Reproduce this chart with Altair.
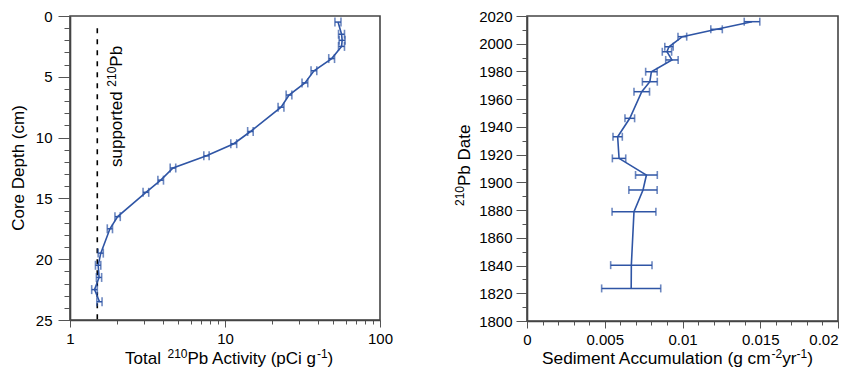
import altair as alt
import pandas as pd

FONT = "Liberation Sans"
BLUE = "#2f55a5"

# ---------------- Left panel: 210Pb activity vs depth ----------------
depth = [0.5, 1.5, 2.0, 2.5, 3.5, 4.5, 5.5, 6.5, 7.5, 9.5, 10.5, 11.5,
         12.5, 13.5, 14.5, 16.5, 17.5, 19.5, 20.5, 21.5, 22.5, 23.5]
activity = [53.6, 56.5, 57.0, 56.5, 48.8, 37.5, 32.8, 25.9, 23.0, 14.6, 11.4, 7.6,
            4.62, 3.85, 3.09, 2.03, 1.81, 1.58, 1.52, 1.54, 1.44, 1.55]
activity_err = [2.4, 2.5, 2.5, 2.5, 2.1, 1.6, 1.4, 1.1, 1.0, 0.6, 0.5, 0.3,
                0.19, 0.16, 0.13, 0.08, 0.07, 0.06, 0.06, 0.06, 0.06, 0.06]
supported_pb = 1.5
supported_depth_range = [1.0, 25.0]

# ---------------- Right panel: sediment accumulation vs date ----------------
year = [2015.9, 2010.4, 2005.1, 1997.8, 1994.2, 1988.3, 1979.8, 1972.6, 1965.4,
        1946.2, 1932.9, 1917.3, 1905.3, 1894.5, 1878.8, 1840.3, 1823.5]
accum = [0.01447, 0.01219, 0.00999, 0.00913, 0.00900, 0.00932, 0.00800, 0.00790,
         0.00738, 0.00661, 0.00583, 0.00592, 0.00768, 0.00746, 0.00688, 0.00671, 0.00670]
accum_err = [0.00050, 0.00037, 0.00028, 0.00027, 0.00030, 0.00040, 0.00037, 0.00048,
             0.00050, 0.00031, 0.00030, 0.00043, 0.00070, 0.00091, 0.00141, 0.00133, 0.00190]

left_df = pd.DataFrame({
    "depth": depth,
    "act": activity,
    "lo": [a - e for a, e in zip(activity, activity_err)],
    "hi": [a + e for a, e in zip(activity, activity_err)],
})
sup_df = pd.DataFrame({"s": [supported_pb], "d0": [supported_depth_range[0]],
                       "d1": [supported_depth_range[1]]})

right_df = pd.DataFrame({
    "year": year,
    "acc": accum,
    "lo": [a - e for a, e in zip(accum, accum_err)],
    "hi": [a + e for a, e in zip(accum, accum_err)],
})

# ---------- axes ----------
left_x_ticks = [1, 2, 3, 4, 5, 6, 7, 8, 9, 10, 20, 30, 40, 50, 60, 70, 80, 90, 100]
left_y_ticks = list(range(0, 26))
right_x_ticks = [round(i * 0.001, 3) for i in range(21)]
right_y_ticks = list(range(1800, 2021, 10))

lx_major = "datum.value == 1 || datum.value == 10 || datum.value == 100"
ly_major = "datum.value % 5 == 0"
rx_major = "abs(datum.value * 200 - round(datum.value * 200)) < 1e-6"
ry_major = "datum.value % 20 == 0"


def xl(field):
    return alt.X(f"{field}:Q", title=None,
                 scale=alt.Scale(type="log", domain=[1, 100], nice=False),
                 axis=alt.Axis(values=left_x_ticks, format="d", labelFlush=False,
                               labelExpr=f"({lx_major}) ? datum.label : ''",
                               tickSize={"condition": {"test": lx_major, "value": 7}, "value": 4},
                               labelPadding=4))


def yl(field):
    return alt.Y(f"{field}:Q", title=None,
                 scale=alt.Scale(domain=[0, 25], reverse=True, nice=False, zero=False),
                 axis=alt.Axis(values=left_y_ticks,
                               labelExpr=f"({ly_major}) ? datum.label : ''",
                               tickSize={"condition": {"test": ly_major, "value": 12}, "value": 6},
                               labelPadding=6))


def xr(field):
    return alt.X(f"{field}:Q", title=None,
                 scale=alt.Scale(domain=[0, 0.02], nice=False, zero=False),
                 axis=alt.Axis(values=right_x_ticks, format="~g", labelFlush=False,
                               labelAlign={"condition": {"test": "datum.value > 0.0195",
                                                         "value": "right"},
                                           "value": "center"},
                               labelExpr=f"({rx_major}) ? datum.label : ''",
                               tickSize={"condition": {"test": rx_major, "value": 7}, "value": 4},
                               labelPadding=4))


def yr(field):
    return alt.Y(f"{field}:Q", title=None,
                 scale=alt.Scale(domain=[1800, 2020], nice=False, zero=False),
                 axis=alt.Axis(values=right_y_ticks, format="d",
                               labelExpr=f"({ry_major}) ? datum.label : ''",
                               tickSize={"condition": {"test": ry_major, "value": 11}, "value": 5},
                               labelPadding=4))


def label(text, x, y, size=17, angle=0, align="left", baseline="alphabetic"):
    """Static annotation / axis-title text placed in plot-area pixels."""
    return alt.Chart(pd.DataFrame({"k": [0]})).mark_text(
        text=text, font=FONT, fontSize=size, color="black", angle=angle,
        align=align, baseline=baseline).encode(x=alt.value(x), y=alt.value(y))


# ---------- left chart ----------
LW, LH = 310, 304
lbase = alt.Chart(left_df)
l_line = lbase.mark_line(color=BLUE, strokeWidth=1.6).encode(
    x=xl("act"), y=yl("depth"), order=alt.Order("depth:Q"))
l_rule = lbase.mark_rule(color=BLUE, strokeWidth=1.5).encode(
    x=xl("lo"), x2="hi:Q", y=yl("depth"))
l_cap_lo = lbase.mark_tick(color=BLUE, orient="vertical", size=9, thickness=1.6).encode(
    x=xl("lo"), y=yl("depth"))
l_cap_hi = lbase.mark_tick(color=BLUE, orient="vertical", size=9, thickness=1.6).encode(
    x=xl("hi"), y=yl("depth"))
l_sup = alt.Chart(sup_df).mark_rule(color="black", strokeWidth=1.6, strokeDash=[5, 6]).encode(
    x=xl("s"), y=yl("d0"), y2="d1:Q")

left_texts = [
    # annotation "supported 210Pb" (rotated)
    label("supported", 52, 151, size=17, angle=270),
    label("210", 46, 70.7, size=12, angle=270),
    label("Pb", 52, 50.7, size=17, angle=270),
    # y title
    label("Core Depth (cm)", -51, LH / 2, size=17, angle=270, align="center", baseline="middle"),
    # x title "Total 210Pb Activity (pCi g-1)"
    label("Total", 55, 348),
    label("210", 97.5, 342, size=12),
    label("Pb Activity (pCi g", 117.5, 348),
    label("-1", 246.9, 342, size=12),
    label(")", 257.6, 348),
]

left = alt.layer(l_sup, l_line, l_rule, l_cap_lo, l_cap_hi, *left_texts).properties(
    width=LW, height=LH)

# ---------- right chart ----------
RW, RH = 311, 305
rbase = alt.Chart(right_df)
r_line = rbase.mark_line(color=BLUE, strokeWidth=1.6).encode(
    x=xr("acc"), y=yr("year"), order=alt.Order("year:Q"))
r_rule = rbase.mark_rule(color=BLUE, strokeWidth=1.5).encode(
    x=xr("lo"), x2="hi:Q", y=yr("year"))
r_cap_lo = rbase.mark_tick(color=BLUE, orient="vertical", size=8, thickness=1.6).encode(
    x=xr("lo"), y=yr("year"))
r_cap_hi = rbase.mark_tick(color=BLUE, orient="vertical", size=8, thickness=1.6).encode(
    x=xr("hi"), y=yr("year"))

right_texts = [
    # y title "210Pb Date" (rotated)
    label("210", -63, 190, size=12, angle=270),
    label("Pb Date", -57, 170, size=17, angle=270),
    # x title "Sediment Accumulation (g cm-2yr-1)"
    label("Sediment Accumulation (g cm", 15, 348, size=17.3),
    label("-2", 244.5, 342, size=12),
    label("yr", 255.2, 348, size=17.3),
    label("-1", 269.6, 342, size=12),
    label(")", 280.3, 348, size=17.3),
]

right = alt.layer(r_line, r_rule, r_cap_lo, r_cap_hi, *right_texts).properties(
    width=RW, height=RH)

chart = alt.hconcat(left, right, spacing=59).properties(
    padding={"left": 1, "top": 0, "right": 0, "bottom": 0}
).configure_view(
    stroke="#444", strokeWidth=1.6
).configure_axis(
    grid=False,
    labelFont=FONT, labelFontSize=15, labelColor="black",
    domainColor="#444", domainWidth=1.6,
    tickColor="#555", tickWidth=1,
)

chart.save("out.html", embed_options={"renderer": "svg", "actions": False})
